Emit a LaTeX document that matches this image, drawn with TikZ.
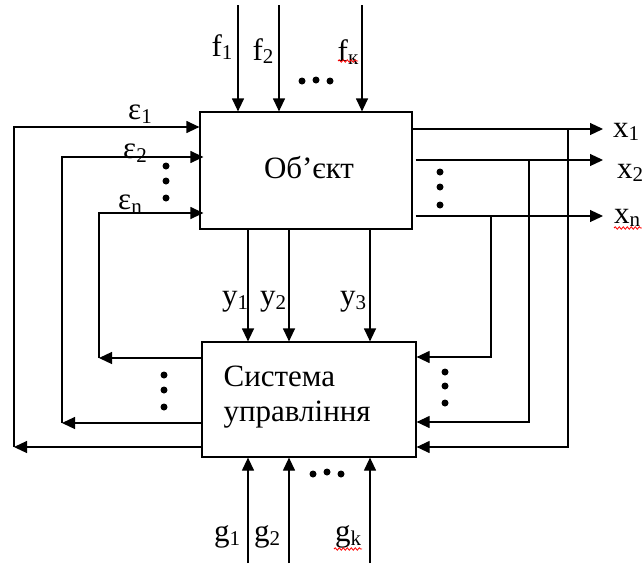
\documentclass[tikz,border=0pt]{standalone}
\usepackage{fontspec}
\setmainfont{Liberation Serif}
\usetikzlibrary{arrows.meta,decorations.pathmorphing}
\newcommand\lab[2]{#1\raisebox{-0.12em}{\fontsize{21}{21}\selectfont #2}}
\begin{document}
\begin{tikzpicture}[x=1pt,y=-1pt,line width=1.2pt,
  arr/.style={-{Triangle[length=13pt,width=12pt]}},
  box/.style={draw,rectangle,inner sep=0pt},
  lbl/.style={font=\fontsize{31}{35}\selectfont,inner sep=0pt},
  dotc/.style={circle,fill,inner sep=0pt,minimum size=7pt},
  squig/.style={draw=red,line width=0.8pt,decorate,decoration={snake,amplitude=1.2pt,segment length=4pt}}]
\useasboundingbox (0,0) rectangle (642,563);
% boxes
\node[box,minimum width=212pt,minimum height=117pt] (obj) at (306,170.5) {};
\node[lbl] (objt) at (309,168) {Об’єкт};
\node[box,minimum width=214pt,minimum height=115pt] (sys) at (309,399.5) {};
\node[lbl,align=left,anchor=west] (syst) at (223,397) {Система\\управління};
% f inputs
\coordinate (f1) at (238,5);
\coordinate (f2) at (279,5);
\coordinate (fk) at (362,5);
\draw[arr] (f1) -- (f1 |- obj.north);
\draw[arr] (f2) -- (f2 |- obj.north);
\draw[arr] (fk) -- (fk |- obj.north);
\node[lbl] (lf1) at (222,47) {\lab{f}{1}};
\node[lbl] (lf2) at (263,51) {\lab{f}{2}};
\node[lbl] (lfk) at (348,52) {\lab{f}{к}};
\coordinate (sqf1) at (338,61); \coordinate (sqf2) at (358,61);
\path[squig] (sqf1) -- (sqf2);
\node[dotc] (d1) at (302,81) {};
\node[dotc] (d2) at (316,80) {};
\node[dotc] (d3) at (330,81) {};
% y connections
\coordinate (c1) at (248,0);
\coordinate (c2) at (289,0);
\coordinate (c3) at (370,0);
\draw[arr] (c1 |- obj.south) -- (c1 |- sys.north);
\draw[arr] (c2 |- obj.south) -- (c2 |- sys.north);
\draw[arr] (c3 |- obj.south) -- (c3 |- sys.north);
\node[lbl] (ly1) at (235,302) {\lab{y}{1}};
\node[lbl] (ly2) at (273,302) {\lab{y}{2}};
\node[lbl] (ly3) at (353,302) {\lab{y}{3}};
% g inputs
\coordinate (g1) at (248,563);
\coordinate (g2) at (289,563);
\coordinate (gk) at (370,563);
\draw[arr] (g1) -- (g1 |- sys.south);
\draw[arr] (g2) -- (g2 |- sys.south);
\draw[arr] (gk) -- (gk |- sys.south);
\node[lbl] (lg1) at (227,537) {\lab{g}{1}};
\node[lbl] (lg2) at (267,537) {\lab{g}{2}};
\node[lbl] (lgk) at (348,537) {\lab{g}{k}};
\coordinate (sqg1) at (334,549); \coordinate (sqg2) at (362,549);
\path[squig] (sqg1) -- (sqg2);
\node[dotc] (b1) at (313,474) {};
\node[dotc] (b2) at (327,472) {};
\node[dotc] (b3) at (341,474) {};
% left feedback (epsilon)
\coordinate (e1) at (14,127);  \coordinate (e1b) at (14,447);
\coordinate (e2) at (62,157);  \coordinate (e2b) at (62,423);
\coordinate (en) at (99,213);  \coordinate (enb) at (99,358);
\draw[arr] (sys.west |- e1b) -- (e1b);
\draw[arr] (sys.west |- e2b) -- (e2b);
\draw[arr] (sys.west |- enb) -- (enb);
\draw[arr] (e1b) -- (e1) -- (e1 -| obj.west);
\draw[arr,shorten >=-4pt] (e2b) -- (e2) -- (e2 -| obj.west);
\draw[arr,shorten >=-4pt] (enb) -- (en) -- (en -| obj.west);
\node[lbl] (le1) at (140,114) {\lab{ε}{1}};
\node[lbl] (le2) at (135,153) {\lab{ε}{2}};
\node[lbl] (len) at (130,204) {\lab{ε}{n}};
\node[dotc] (l1) at (166,166) {};
\node[dotc] (l2) at (166,181) {};
\node[dotc] (l3) at (166,198) {};
\node[dotc] (s1) at (164,375) {};
\node[dotc] (s2) at (164,390) {};
\node[dotc] (s3) at (164,407) {};
% outputs x
\coordinate (x1) at (603,129);
\coordinate (x2) at (603,160);
\coordinate (xn) at (603,216);
\draw[arr] (x1 -| obj.east) -- (x1);
\draw[arr,shorten <=3pt] (x2 -| obj.east) -- (x2);
\draw[arr,shorten <=3pt] (xn -| obj.east) -- (xn);
\node[lbl] (lx1) at (626,132) {\lab{x}{1}};
\node[lbl] (lx2) at (630,173) {\lab{x}{2}};
\node[lbl] (lxn) at (627,218) {\lab{x}{n}};
\coordinate (sqx1) at (614,228); \coordinate (sqx2) at (642,228);
\path[squig] (sqx1) -- (sqx2);
\node[dotc] (r1) at (440,172) {};
\node[dotc] (r2) at (440,187) {};
\node[dotc] (r3) at (440,205) {};
% right feedback
\coordinate (v1) at (568,129); \coordinate (v1b) at (568,447);
\coordinate (v2) at (529,160); \coordinate (v2b) at (529,422);
\coordinate (vn) at (491,216); \coordinate (vnb) at (491,357);
\draw[arr] (v1) -- (v1b) -- (v1b -| sys.east);
\draw[arr] (v2) -- (v2b) -- (v2b -| sys.east);
\draw[arr] (vn) -- (vnb) -- (vnb -| sys.east);
\node[dotc] (q1) at (445,372) {};
\node[dotc] (q2) at (445,386) {};
\node[dotc] (q3) at (445,403) {};
\end{tikzpicture}
\end{document}
